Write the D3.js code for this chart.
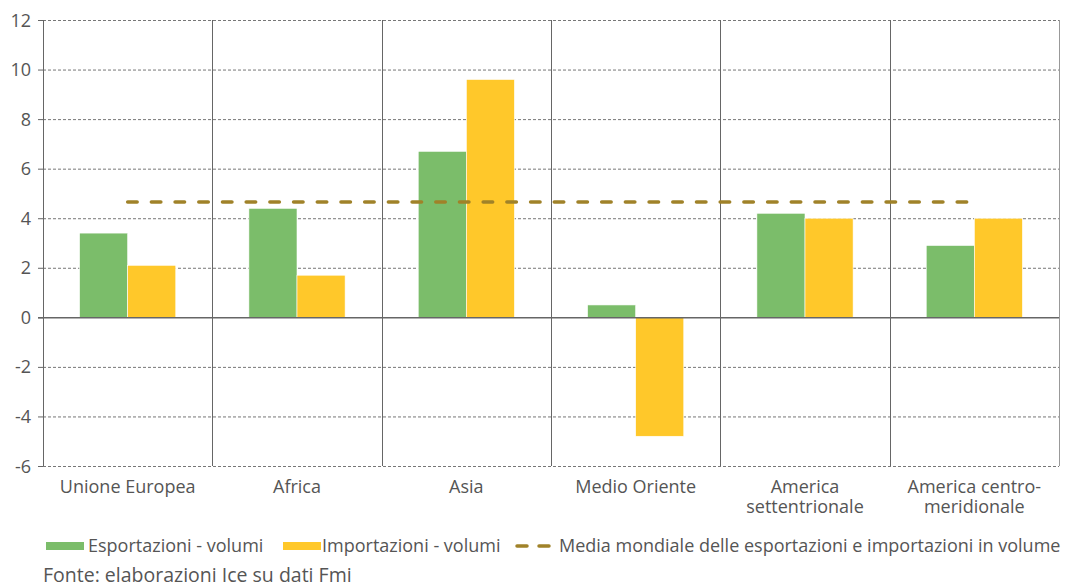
<!DOCTYPE html>
<html>
<head>
<meta charset="utf-8">
<script src="https://cdn.jsdelivr.net/npm/d3@7"></script>
<style>
  body { margin: 0; background: #fff; }
  svg { font-family: "Open Sans", sans-serif; }
</style>
</head>
<body>
<div id="chart"></div>
<script>
// data
const categories = ["Unione Europea", "Africa", "Asia", "Medio Oriente", "America settentrionale", "America centro-meridionale"];
const categoryLines = [["Unione Europea"], ["Africa"], ["Asia"], ["Medio Oriente"], ["America", "settentrionale"], ["America centro-", "meridionale"]];
const esportazioni = [3.4, 4.4, 6.7, 0.5, 4.2, 2.9];
const importazioni = [2.1, 1.7, 9.6, -4.8, 4.0, 4.0];
const mediaMondiale = [4.65, 4.65, 4.65, 4.65, 4.65, 4.65];
const yTicks = [-6, -4, -2, 0, 2, 4, 6, 8, 10, 12];

const width = 1065, height = 586;
const margin = {top: 20, right: 6, bottom: 120, left: 43};

const svg = d3.select("#chart").append("svg")
    .attr("width", width)
    .attr("height", height)

const x = d3.scaleBand()
    .domain(categories)
    .range([margin.left, width - margin.right])
    .paddingInner(0)
    .paddingOuter(0)
const y = d3.scaleLinear()
    .domain([-6, 12])
    .range([466, 20])

const inner = d3.scaleBand()
    .domain(["exp", "imp"])
    .range([0, x.bandwidth()])
    .paddingOuter(0.76)
    .paddingInner(0)

// horizontal dashed grid
svg.append("g")
    .selectAll("line")
    .data(yTicks.filter(d => d !== 0))
    .join("line")
    .attr("x1", margin.left)
    .attr("x2", width - margin.right)
    .attr("y1", d => y(d) + 0.5)
    .attr("y2", d => y(d) + 0.5)
    .attr("stroke", "#777")
    .attr("stroke-width", 1)
    .attr("stroke-dasharray", "3,2")

// vertical category separators
const seps = categories.map(c => x(c)).concat([width - margin.right]);
svg.append("g")
    .selectAll("line")
    .data(seps)
    .join("line")
    .attr("x1", d => Math.round(d) + 0.5)
    .attr("x2", d => Math.round(d) + 0.5)
    .attr("y1", y(12))
    .attr("y2", y(-6))
    .attr("stroke", (d, i) => i === seps.length - 1 ? "#999" : "#666")
    .attr("stroke-width", 1)

// y tick marks + labels
const yAxis = svg.append("g")
yAxis.selectAll("line")
    .data(yTicks)
    .join("line")
    .attr("x1", margin.left - 5)
    .attr("x2", margin.left)
    .attr("y1", d => y(d) + 0.5)
    .attr("y2", d => y(d) + 0.5)
    .attr("stroke", "#666")
yAxis.selectAll("text")
    .data(yTicks)
    .join("text")
    .attr("x", 31)
    .attr("y", d => y(d) + 6.5)
    .attr("text-anchor", "end")
    .attr("font-size", 18)
    .attr("fill", "#555")
    .text(d => d)

// bars
const groups = svg.append("g")
    .selectAll("g")
    .data(categories)
    .join("g")
    .attr("transform", d => `translate(${x(d)},0)`)

groups.append("rect")
    .attr("x", inner("exp"))
    .attr("width", inner.bandwidth())
    .attr("y", (d, i) => y(Math.max(0, esportazioni[i])))
    .attr("height", (d, i) => Math.abs(y(esportazioni[i]) - y(0)))
    .attr("fill", "#7BBD6A")
    .attr("stroke", "#fff")
    .attr("stroke-width", 0.6)

groups.append("rect")
    .attr("x", inner("imp"))
    .attr("width", inner.bandwidth())
    .attr("y", (d, i) => y(Math.max(0, importazioni[i])))
    .attr("height", (d, i) => Math.abs(y(importazioni[i]) - y(0)))
    .attr("fill", "#FFC82A")
    .attr("stroke", "#fff")
    .attr("stroke-width", 0.6)

// zero line
svg.append("line")
    .attr("x1", margin.left - 5)
    .attr("x2", width - margin.right)
    .attr("y1", y(0) + 0.5)
    .attr("y2", y(0) + 0.5)
    .attr("stroke", "#666")
    .attr("stroke-width", 1.5)

// world average dashed line
const line = d3.line()
    .x((d, i) => x(categories[i]) + x.bandwidth() / 2)
    .y(d => y(d))
svg.append("path")
    .datum(mediaMondiale)
    .attr("d", line)
    .attr("fill", "none")
    .attr("stroke", "#A08229")
    .attr("stroke-width", 3.5)
    .attr("stroke-linecap", "round")
    .attr("stroke-dasharray", "9.5,14.2")

// category labels (one text element per line)
const labelGroups = svg.append("g")
    .selectAll("g")
    .data(categories)
    .join("g")
labelGroups.selectAll("text")
    .data((d, i) => categoryLines[i].map(t => ({cat: d, t: t})))
    .join("text")
    .attr("x", d => x(d.cat) + x.bandwidth() / 2)
    .attr("y", (d, i) => 493 + i * 20)
    .attr("text-anchor", "middle")
    .attr("font-size", 18)
    .attr("fill", "#555")
    .text(d => d.t)

// legend
const legend = svg.append("g").attr("font-size", 18).attr("fill", "#555")
legend.append("rect").attr("x", 46).attr("y", 542).attr("width", 38).attr("height", 8).attr("fill", "#7BBD6A")
legend.append("text").attr("x", 88).attr("y", 552).text("Esportazioni - volumi")
legend.append("rect").attr("x", 283).attr("y", 542).attr("width", 38).attr("height", 8).attr("fill", "#FFC82A")
legend.append("text").attr("x", 322).attr("y", 552).text("Importazioni - volumi")
legend.selectAll("line.dash")
    .data([[517, 527], [539, 549]])
    .join("line")
    .attr("class", "dash")
    .attr("x1", d => d[0]).attr("x2", d => d[1])
    .attr("y1", 546).attr("y2", 546)
    .attr("stroke", "#A08229").attr("stroke-width", 3.5).attr("stroke-linecap", "round")
legend.append("text").attr("x", 559).attr("y", 552).text("Media mondiale delle esportazioni e importazioni in volume")

svg.append("text")
    .attr("x", 43).attr("y", 582)
    .attr("font-size", 19.5)
    .attr("fill", "#555")
    .text("Fonte: elaborazioni Ice su dati Fmi")
</script>
</body>
</html>
